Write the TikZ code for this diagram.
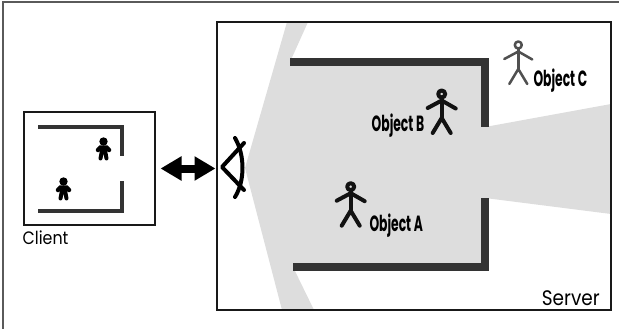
\documentclass[tikz,border=0pt]{standalone}
\usepackage{fontspec}
\setmainfont{Poppins}
\newfontfamily\tagfont[FakeStretch=0.88]{Poppins}
\newfontfamily\objfont[FakeStretch=0.56]{Poppins}
\usetikzlibrary{arrows.meta}
\definecolor{wallGray}{HTML}{333333}
\definecolor{viewGray}{HTML}{DDDDDD}
\definecolor{frameGray}{HTML}{5A5A5A}
\definecolor{ghostGray}{HTML}{505050}

\begin{document}
\begin{tikzpicture}[
  x=1pt, y=-1pt,
  box/.style    ={draw=black!90, line width=2pt, inner sep=0pt},
  wall/.style   ={draw=wallGray, line width=8pt},
  minwall/.style={draw=wallGray, line width=4pt},
  tag/.style    ={font=\tagfont\fontsize{18}{18}\selectfont, inner sep=0pt},
  objtag/.style ={font=\objfont\bfseries\fontsize{22}{22}\selectfont, inner sep=0pt, anchor=base west},
  link/.style   ={line width=8pt, {Triangle[length=21pt,width=23pt]}-{Triangle[length=21pt,width=23pt]}},
  eyeline/.style={line width=4pt, line cap=round, line join=round},
  stickman/.pic={
    \draw (0,0) circle[radius=3.5];
    \draw (-14,14) -- (0,6.5) -- (14,14.5);
    \draw (0,3.5) -- (0,24);
    \draw (-9,39) -- (0,24) -- (9,39);
  },
  blobman/.pic={
    \fill (0,4.5) circle[radius=4.2];
    \draw[line width=4.5pt, line cap=round] (-5.5,13) -- (-3,10.5) -- (3,10.5) -- (5.5,13);
    \draw[line width=7pt] (0,10) -- (0,16);
    \draw[line width=4pt, line cap=round] (-1.8,15) -- (-3,21.5) (1.8,15) -- (3,21.5);
  }]
  \useasboundingbox (0,0) rectangle (619,329);
  \draw[frameGray, line width=1.5pt] (619,2) -- (3,2) -- (3,329);

  % field of view, cut by the walls
  \fill[viewGray] (245,168) -- (287,22) -- (308,22) -- (290,62) -- (485,62)
    -- (485,127) -- (611,104) -- (611,214) -- (485,198) -- (485,267)
    -- (293,267) -- (314,310) -- (282,310) -- cycle;

  \node[box, minimum width=131pt, minimum height=112pt] (client) at (89,168.5) {};
  \node[box, minimum width=394pt, minimum height=287pt] (server) at (413.5,166) {};
  \node[tag, anchor=base west] (clientlabel) at (22.5,244) {Client};
  \node[tag, font=\tagfont\fontsize{21}{21}\selectfont, anchor=base east] (serverlabel) at (600,305) {Server};

  % client side room
  \draw[minwall] (38,127) -- (122,127) -- (122,156);
  \draw[minwall] (122,181) -- (122,211) -- (38,211);
  \pic[black] at (103.5,137) {blobman};
  \pic[black] at (63.5,177) {blobman};

  % server side room
  \draw[wall] (290,62) -- (485,62) -- (485,127);
  \draw[wall] (485,198) -- (485,267) -- (293,267);

  % eye
  \draw[eyeline] (244,143) -- (222,167) -- (244,190);
  \draw[eyeline] (235,138) .. controls (245,155) and (245,181) .. (235,197);

  \draw[link, shorten <=5pt] (client.east) -- (client.east -| server.west);

  \pic[black!93, line width=4pt, line cap=round, line join=round] at (441.7,94) {stickman};
  \pic[black!93, line width=4pt, line cap=round, line join=round] at (350.7,186.7) {stickman};
  \pic[ghostGray, line width=2.5pt, line cap=round, line join=round] at (518.3,45) {stickman};

  \node[objtag] (objB) at (371.5,131.5) {Object B};
  \node[objtag] (objA) at (369.3,231.7) {Object A};
  \node[objtag] (objC) at (533.3,86.7) {Object C};
\end{tikzpicture}
\end{document}
